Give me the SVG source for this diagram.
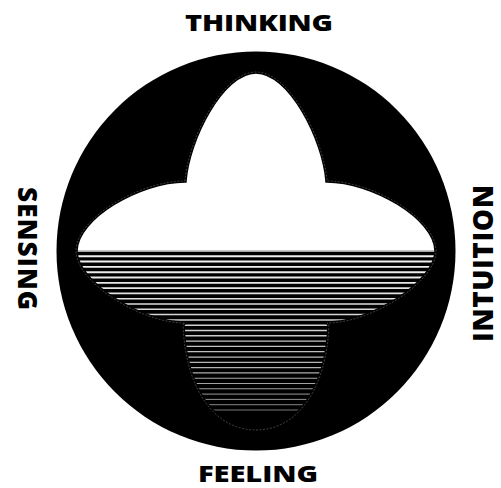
<svg xmlns="http://www.w3.org/2000/svg" xmlns:xlink="http://www.w3.org/1999/xlink" width="501" height="488" viewBox="0 0 501 488">
  <style>
    .lbl { font-family: "Open Sans", "DejaVu Sans", sans-serif; font-weight: 800; fill: #000; }
    .stripe { stroke-linecap: butt; }
  </style>
  <defs>
    <path id="blobPath" d="M185,181 C188,140 222,72 256,72 C290,72 324,140 327,181 C372,181 436,218 436,251 C436,282 372,323 327,323 L329,324 C327,388 298,430 256,430 C214,430 185,388 183,324 L185,323 C140,323 76,282 76,251 C76,218 140,181 185,181 Z"/>
    <clipPath id="blobClip"><use xlink:href="#blobPath"/></clipPath>
    <clipPath id="upperClip"><rect x="0" y="0" width="501" height="250.5"/></clipPath>
  </defs>
  <rect width="501" height="488" fill="#fff"/>
  <g id="circle">
    <circle cx="256" cy="251" r="199.5" fill="#000"/>
  </g>
  <g id="blob">
    <g clip-path="url(#upperClip)">
      <use xlink:href="#blobPath" fill="#fff"/>
    </g>
    <g id="stripes" clip-path="url(#blobClip)">
      <line class="stripe" x1="60" x2="450" y1="251.0" y2="251.0" stroke="#e0e0e0" stroke-width="1.6"/>
      <line class="stripe" x1="60" x2="450" y1="256.3" y2="256.3" stroke="#f2f2f2" stroke-width="2.0"/>
      <line class="stripe" x1="60" x2="450" y1="261.6" y2="261.6" stroke="#f0f0f0" stroke-width="2.0"/>
      <line class="stripe" x1="60" x2="450" y1="266.9" y2="266.9" stroke="#eeeeee" stroke-width="1.9"/>
      <line class="stripe" x1="60" x2="450" y1="272.2" y2="272.2" stroke="#ececec" stroke-width="1.9"/>
      <line class="stripe" x1="60" x2="450" y1="277.5" y2="277.5" stroke="#eaeaea" stroke-width="1.8"/>
      <line class="stripe" x1="60" x2="450" y1="282.8" y2="282.8" stroke="#e8e8e8" stroke-width="1.8"/>
      <line class="stripe" x1="60" x2="450" y1="288.1" y2="288.1" stroke="#e5e5e5" stroke-width="1.7"/>
      <line class="stripe" x1="60" x2="450" y1="293.4" y2="293.4" stroke="#e2e2e2" stroke-width="1.7"/>
      <line class="stripe" x1="60" x2="450" y1="298.7" y2="298.7" stroke="#e0e0e0" stroke-width="1.6"/>
      <line class="stripe" x1="60" x2="450" y1="304.0" y2="304.0" stroke="#dddddd" stroke-width="1.6"/>
      <line class="stripe" x1="60" x2="450" y1="309.3" y2="309.3" stroke="#dadada" stroke-width="1.55"/>
      <line class="stripe" x1="60" x2="450" y1="314.6" y2="314.6" stroke="#d7d7d7" stroke-width="1.5"/>
      <line class="stripe" x1="60" x2="450" y1="319.9" y2="319.9" stroke="#d4d4d4" stroke-width="1.5"/>
      <line class="stripe" x1="60" x2="450" y1="325.2" y2="325.2" stroke="#d1d1d1" stroke-width="1.45"/>
      <line class="stripe" x1="60" x2="450" y1="330.5" y2="330.5" stroke="#cecece" stroke-width="1.4"/>
      <line class="stripe" x1="60" x2="450" y1="335.8" y2="335.8" stroke="#cacaca" stroke-width="1.4"/>
      <line class="stripe" x1="60" x2="450" y1="341.1" y2="341.1" stroke="#c6c6c6" stroke-width="1.35"/>
      <line class="stripe" x1="60" x2="450" y1="346.4" y2="346.4" stroke="#c2c2c2" stroke-width="1.3"/>
      <line class="stripe" x1="60" x2="450" y1="351.7" y2="351.7" stroke="#bebebe" stroke-width="1.3"/>
      <line class="stripe" x1="60" x2="450" y1="357.0" y2="357.0" stroke="#bababa" stroke-width="1.25"/>
      <line class="stripe" x1="60" x2="450" y1="362.3" y2="362.3" stroke="#b6b6b6" stroke-width="1.2"/>
      <line class="stripe" x1="60" x2="450" y1="367.6" y2="367.6" stroke="#b2b2b2" stroke-width="1.2"/>
      <line class="stripe" x1="60" x2="450" y1="372.9" y2="372.9" stroke="#adadad" stroke-width="1.15"/>
      <line class="stripe" x1="60" x2="450" y1="378.2" y2="378.2" stroke="#a8a8a8" stroke-width="1.1"/>
      <line class="stripe" x1="60" x2="450" y1="383.5" y2="383.5" stroke="#a3a3a3" stroke-width="1.1"/>
      <line class="stripe" x1="60" x2="450" y1="388.8" y2="388.8" stroke="#9e9e9e" stroke-width="1.05"/>
      <line class="stripe" x1="60" x2="450" y1="394.1" y2="394.1" stroke="#999999" stroke-width="1.0"/>
      <line class="stripe" x1="60" x2="450" y1="399.4" y2="399.4" stroke="#939393" stroke-width="1.0"/>
      <line class="stripe" x1="60" x2="450" y1="404.7" y2="404.7" stroke="#8d8d8d" stroke-width="0.95"/>
      <line class="stripe" x1="60" x2="450" y1="410.0" y2="410.0" stroke="#878787" stroke-width="0.9"/>
    </g>
    <use xlink:href="#blobPath" fill="none" stroke="#000" stroke-width="3.5"/>
    <use xlink:href="#blobPath" fill="none" stroke="#6a6a6a" stroke-width="0.6" stroke-dasharray="2 1.5"/>
  </g>
  <g id="label-thinking">
    <text class="lbl" transform="translate(185,31) scale(1.26,1)" x="0" y="0" font-size="23" textLength="117.5" lengthAdjust="spacing">THINKING</text>
  </g>
  <g id="label-feeling">
    <text class="lbl" transform="translate(198,482) scale(1.24,1)" x="0" y="0" font-size="23.5" textLength="96.8" lengthAdjust="spacing">FEELING</text>
  </g>
  <g id="label-sensing">
    <text class="lbl" transform="translate(18,187) rotate(90)" x="0" y="0" font-size="26" textLength="123" lengthAdjust="spacing">SENSING</text>
  </g>
  <g id="label-intuition">
    <text class="lbl" transform="translate(493,342) rotate(-90)" x="0" y="0" font-size="28" textLength="157" lengthAdjust="spacing">INTUITION</text>
  </g>
</svg>
